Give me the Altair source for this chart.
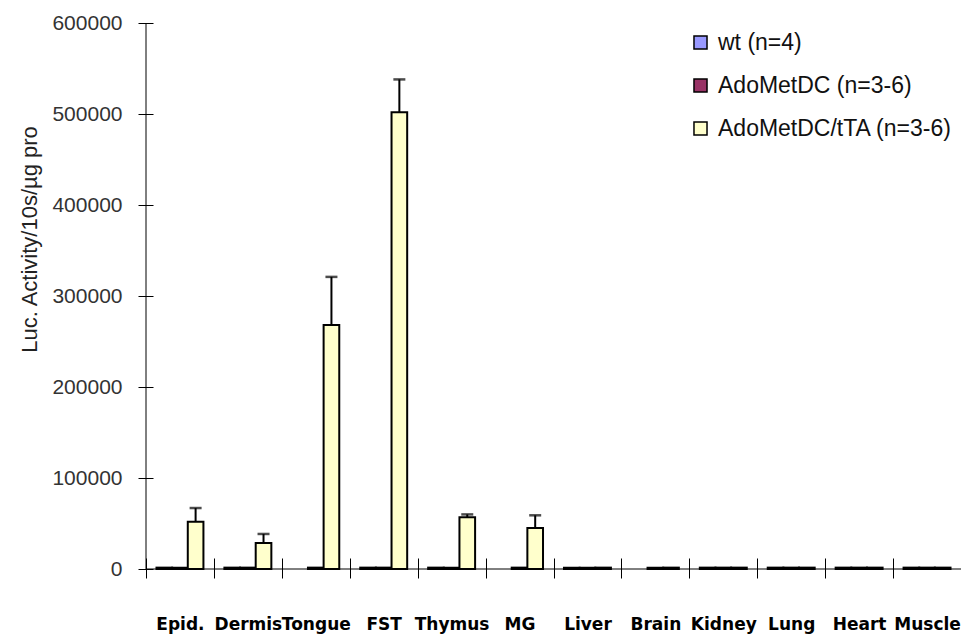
import altair as alt
import pandas as pd

# Tissues along the x axis
categories = ["Epid.", "Dermis", "Tongue", "FST", "Thymus", "MG",
              "Liver", "Brain", "Kidney", "Lung", "Heart", "Muscle"]

# Series names and fills
series = ["wt (n=4)", "AdoMetDC (n=3-6)", "AdoMetDC/tTA (n=3-6)"]
colors = ["#9999FF", "#993366", "#FFFFCC"]

# Mean luciferase activity per tissue (None = not measured)
wt_vals = [1500, 1500, None, 1500, 1500, None, 1500, None, 1500, 1500, 1500, 1500]
ado_vals = [1500, 1500, 1500, 1500, 1500, 1500, 1500, 1500, 1500, 1500, 1500, 1500]
tta_vals = [52000, 28500, 268000, 502000, 57000, 45000,
            1500, 1500, 1500, 1500, 1500, 1500]
# Upper error (SD) for the AdoMetDC/tTA series
tta_err = [15000, 10000, 53000, 36000, 3000, 14000,
           None, None, None, None, None, None]

y_ticks = [0, 100000, 200000, 300000, 400000, 500000, 600000]

rows = []
for i, tissue in enumerate(categories):
    for name, vals in zip(series, [wt_vals, ado_vals, tta_vals]):
        if vals[i] is not None:
            rows.append({"tissue": tissue, "group": name, "value": vals[i]})
bars_df = pd.DataFrame(rows)

err_df = pd.DataFrame([
    {"tissue": t, "group": series[2], "value": v, "upper": v + e}
    for t, v, e in zip(categories, tta_vals, tta_err) if e is not None
])

W, H = 815, 546

x_enc = alt.X(
    "tissue:N", sort=categories,
    scale=alt.Scale(domain=categories, paddingInner=0, paddingOuter=0),
    axis=alt.Axis(title=None, domain=False, offset=-11, tickSize=20,
                  tickBand="extent", tickColor="black", tickWidth=1,
                  labelAngle=0, labelPadding=38, labelFont="DejaVu Sans",
                  labelFontWeight="bold", labelFontSize=17, labelColor="black"),
)
xoff_enc = alt.XOffset(
    "group:N", sort=series,
    scale=alt.Scale(domain=series, paddingOuter=0.67, paddingInner=0),
)
y_scale = alt.Scale(domain=[0, 600000], nice=False)
y_axis = alt.Axis(
    values=y_ticks, format="d", grid=False, domain=False, offset=-7,
    tickSize=15, tickColor="black", tickWidth=1,
    labelPadding=16, labelFont="Liberation Sans", labelFontSize=21,
    labelColor="#333333",
    title="Luc. Activity/10s/µg pro", titleFont="Liberation Sans",
    titleFontSize=22, titleFontWeight="normal", titleColor="#222222",
    titleX=-112, titleY=216,
)

bars = alt.Chart(bars_df).mark_bar(stroke="black", strokeWidth=2).encode(
    x=x_enc,
    xOffset=xoff_enc,
    y=alt.Y("value:Q", scale=y_scale, axis=y_axis),
    fill=alt.Fill(
        "group:N", sort=series,
        scale=alt.Scale(domain=series, range=colors),
        legend=alt.Legend(
            title=None, orient="none", legendX=543, legendY=8,
            symbolType="square", symbolSize=170, symbolStrokeColor="black",
            symbolStrokeWidth=1.5, labelFont="Liberation Sans",
            labelFontSize=23, labelColor="#111111", labelOffset=6,
            labelLimit=400, rowPadding=19, padding=0,
        ),
    ),
)

err_line = alt.Chart(err_df).mark_rule(color="black", strokeWidth=2).encode(
    x=x_enc, xOffset=xoff_enc,
    y=alt.Y("value:Q", scale=y_scale, axis=y_axis),
    y2="upper:Q",
)

err_cap = alt.Chart(err_df).mark_tick(
    color="black", size=12, thickness=2.5, orient="horizontal"
).encode(
    x=x_enc, xOffset=xoff_enc,
    y=alt.Y("upper:Q", scale=y_scale, axis=y_axis),
)

x_line = alt.Chart(pd.DataFrame({"v": [0]})).mark_rule(
    color="black", strokeWidth=1
).encode(y=alt.datum(0))

y_line = alt.Chart(pd.DataFrame({"v": [0]})).mark_rule(
    color="black", strokeWidth=1
).encode(x=alt.value(0), y=alt.value(0), y2=alt.value(H))

chart = (
    alt.layer(bars, err_line, err_cap, x_line, y_line)
    .properties(
        width=W, height=H,
        autosize=alt.AutoSizeParams(type="none"),
        padding={"left": 146, "top": 23, "right": 0, "bottom": 68},
        background="white",
    )
    .configure_view(stroke=None)
)

chart.save("out.html", embed_options={"renderer": "svg", "actions": False})
